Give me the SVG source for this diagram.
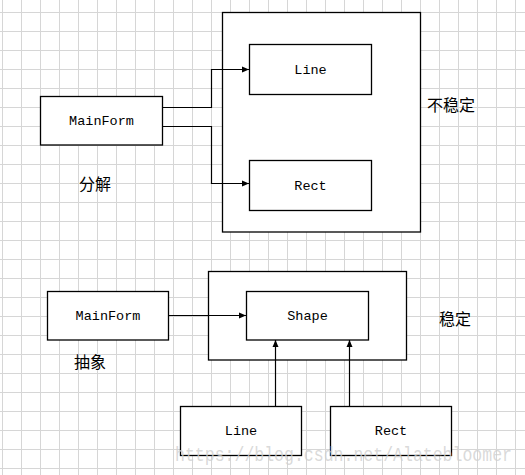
<svg xmlns="http://www.w3.org/2000/svg" width="525" height="475" viewBox="0 0 525 475">
<style>
.box{fill:#fff;stroke:#000;stroke-width:1.3}
.lbl{font-family:"Liberation Mono",monospace;font-size:13.5px;fill:#000;text-anchor:middle}
.cjk{font-family:"Noto Sans CJK SC",sans-serif;font-size:16px;fill:#000}
.conn{fill:none;stroke:#000;stroke-width:1.2}
</style>
<defs>
<pattern id="grid" patternUnits="userSpaceOnUse" x="2" y="12" width="19" height="19">
<path d="M0.5 0V19M0 0.5H19" stroke="#d6d6d6" stroke-width="1" fill="none"/>
</pattern>
<marker id="arr" viewBox="0 0 7 7" refX="7" refY="3.5" markerWidth="7" markerHeight="7" markerUnits="userSpaceOnUse" orient="auto">
<path d="M0 0.5L7 3.5L0 6.5Z" fill="#000"/>
</marker>
</defs>
<rect width="525" height="475" fill="#fff"/>
<rect width="525" height="475" fill="url(#grid)"/>

<g id="frame-unstable"><rect class="box" x="222.5" y="12.5" width="198" height="219.5"/></g>
<g id="frame-stable"><rect class="box" x="208.5" y="271.5" width="198" height="88.5"/></g>

<g id="connectors">
<path class="conn" d="M162 107.5H211.5V69.5H249" marker-end="url(#arr)"/>
<path class="conn" d="M162 126.5H211.5V183.5H249" marker-end="url(#arr)"/>
<path class="conn" d="M168 315.5H246" marker-end="url(#arr)"/>
<path class="conn" d="M275.5 406V340" marker-end="url(#arr)"/>
<path class="conn" d="M349.5 406V340" marker-end="url(#arr)"/>
</g>

<g id="mainform-top"><rect class="box" x="40.5" y="96.5" width="122" height="48.5"/><text class="lbl" x="101.5" y="125">MainForm</text></g>
<g id="line-top"><rect class="box" x="249.5" y="44.5" width="122" height="50"/><text class="lbl" x="310.5" y="74">Line</text></g>
<g id="rect-top"><rect class="box" x="249.5" y="160.5" width="122" height="50"/><text class="lbl" x="310.5" y="190">Rect</text></g>

<g id="mainform-bottom"><rect class="box" x="47.5" y="291.5" width="121" height="48.5"/><text class="lbl" x="108" y="320">MainForm</text></g>
<g id="shape"><rect class="box" x="246.5" y="291.5" width="122" height="48.5"/><text class="lbl" x="307.5" y="320">Shape</text></g>
<g id="line-bottom"><rect class="box" x="180.5" y="406.5" width="121" height="49"/><text class="lbl" x="241" y="435">Line</text></g>
<g id="rect-bottom"><rect class="box" x="330.5" y="406.5" width="121" height="49"/><text class="lbl" x="391" y="435">Rect</text></g>

<g id="labels">
<text class="cjk" x="427" y="111">不稳定</text>
<text class="cjk" x="79" y="190">分解</text>
<text class="cjk" x="74" y="368">抽象</text>
<text class="cjk" x="439" y="325">稳定</text>
</g>
<text x="175" y="461" font-family="Liberation Mono,monospace" font-size="20" fill="#d0d0d0" fill-opacity="0.8" textLength="337" lengthAdjust="spacingAndGlyphs">https://blog.csdn.net/Alatebloomer</text>
</svg>
